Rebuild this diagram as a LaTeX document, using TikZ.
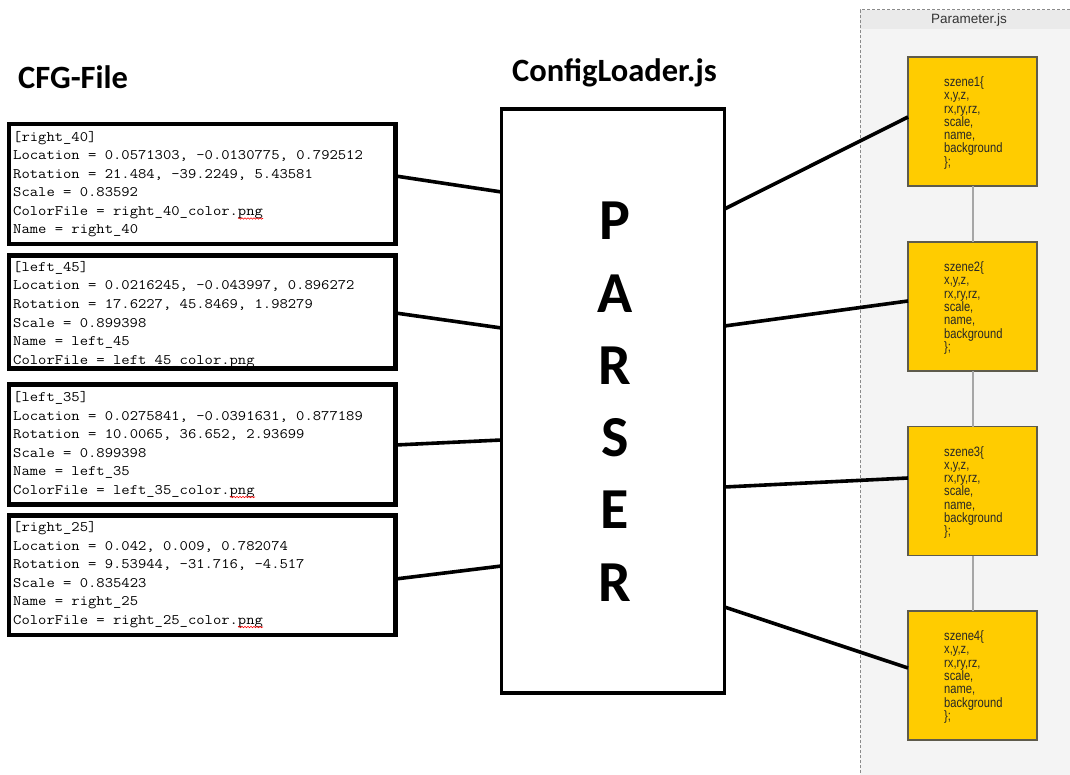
\documentclass[tikz,border=0pt]{standalone}
\usepackage{fontspec}
\usetikzlibrary{decorations.pathmorphing}
\newfontfamily\cfghead{Carlito}
\newfontfamily\cfgmono[FakeStretch=1.115]{Latin Modern Mono}
\newfontfamily\panelsans{Liberation Sans}
\newfontfamily\panelnarrow[FakeStretch=0.82]{Liberation Sans}
\definecolor{szgold}{HTML}{FFCC00}
\definecolor{szedge}{HTML}{5E5B4C}
\definecolor{szlinkgray}{HTML}{A6A6A6}
\definecolor{panelbg}{HTML}{F4F4F4}
\definecolor{panelhead}{HTML}{EAEAEA}
\definecolor{panelrim}{HTML}{8A8A8A}

% one line per node, baselines 18.5pt apart
\newcommand\cfgblock[3]{%
  \foreach \t [count=\i from 0] in {#3} {%
    \node[cfgtext] (#1-\i) at (13,{#2+18.5*\i}) {\t};
  }%
}

\begin{document}
\begin{tikzpicture}[x=1pt,y=-1pt,
  cfgbox/.style={draw=black, line width=4.3pt, minimum width=386.5pt, inner sep=0pt, outer sep=0pt},
  cfgtext/.style={anchor=base west, inner sep=0pt, font=\cfgmono\fontsize{14.5}{16}\selectfont, text=black},
  parserbox/.style={draw=black, line width=3.2pt, minimum width=223pt, minimum height=584pt, inner sep=0pt, outer sep=0pt},
  bigletter/.style={anchor=base, inner sep=0pt, font=\cfghead\bfseries\fontsize{58}{62}\selectfont},
  headline/.style={anchor=base west, inner sep=0pt, font=\cfghead\bfseries\fontsize{32.5}{36}\selectfont},
  wire/.style={line width=3.6pt},
  szbox/.style={draw=szedge, fill=szgold, line width=1.2pt, minimum width=129pt, minimum height=129pt, inner sep=0pt, outer sep=0pt},
  sztext/.style={anchor=base west, inner sep=0pt, font=\panelnarrow\fontsize{13.6}{15}\selectfont, text=black!85},
  szlink/.style={draw=szlinkgray, line width=2pt},
  spell/.style={draw=red, line width=0.6pt, decorate, decoration={snake, segment length=3pt, amplitude=0.7pt}}
]
\useasboundingbox (0,0) rectangle (1070,775);
\clip (0,0) rectangle (1070,775);

% Parameter.js container
\fill[panelbg] (860,10) rectangle (1090,790);
\fill[panelhead] (860,10) rectangle (1090,29);
\draw[panelrim, line width=1pt, dash pattern=on 3pt off 2pt] (1090,10) -- (860,10) -- (860,790);
\node[font=\panelsans\fontsize{13.5}{15}\selectfont, text=black!80, inner sep=0pt] (ptitle) at (969,20) {Parameter.js};

% headings
\node[headline] (cfgtitle) at (18,89) {CFG-File};
\node[headline] (loadtitle) at (512,82) {ConfigLoader.js};

% config file sections
\cfgblock{c1}{141.5}{{[right\_40]},{Location = 0.0571303, -0.0130775, 0.792512},{Rotation = 21.484, -39.2249, 5.43581},{Scale = 0.83592},{ColorFile = right\_40\_color.png},{Name = right\_40}}
\cfgblock{c2}{271.5}{{[left\_45]},{Location = 0.0216245, -0.043997, 0.896272},{Rotation = 17.6227, 45.8469, 1.98279},{Scale = 0.899398},{Name = left\_45},{ColorFile = left\_45\_color.png}}
\cfgblock{c3}{401.5}{{[left\_35]},{Location = 0.0275841, -0.0391631, 0.877189},{Rotation = 10.0065, 36.652, 2.93699},{Scale = 0.899398},{Name = left\_35},{ColorFile = left\_35\_color.png}}
\cfgblock{c4}{531.5}{{[right\_25]},{Location = 0.042, 0.009, 0.782074},{Rotation = 9.53944, -31.716, -4.517},{Scale = 0.835423},{Name = right\_25},{ColorFile = right\_25\_color.png}}

% spell-check marks under "png"
\draw[spell] (238,218.5) -- (263,218.5);
\draw[spell] (230,367) -- (255,367);
\draw[spell] (230,497) -- (255,497);
\draw[spell] (238,627) -- (263,627);

% section frames
\node[cfgbox, minimum height=120pt] (cfg1) at (202.25,184) {};
\node[cfgbox, minimum height=113pt] (cfg2) at (202.25,312) {};
\node[cfgbox, minimum height=120pt] (cfg3) at (202.25,444.5) {};
\node[cfgbox, minimum height=119.5pt] (cfg4) at (202.25,575.25) {};

% parser
\node[parserbox] (parser) at (613,401) {};
\foreach \L [count=\i from 0] in {P,A,R,S,E,R}
  \node[bigletter] (pl\i) at (615,{240+72.2*\i}) {\L};

% scene objects
\foreach \k/\cy in {1/121.5, 2/306.5, 3/491, 4/675.5} {
  \node[szbox] (s\k) at (972.5,\cy) {};
  \foreach \ln [count=\i from 0] in {szene\k\{, {x,y,z,}, {rx,ry,rz,}, {scale,}, {name,}, background, {\};}}
    \node[sztext] (s\k-\i) at (944,{\cy-35+13.3*\i}) {\ln};
}
\path[szlink] (s1.south) -- (s2.north) (s2.south) -- (s3.north) (s3.south) -- (s4.north);

% connectors: config sections to parser
\draw[wire] ([yshift=8pt]cfg1.east) -- ([yshift=209pt]parser.west);
\draw[wire] ([yshift=-1pt]cfg2.east) -- ([yshift=73pt]parser.west);
\draw[wire] ([yshift=-0.5pt]cfg3.east) -- ([yshift=-39pt]parser.west);
\draw[wire] ([yshift=-3.75pt]cfg4.east) -- ([yshift=-165pt]parser.west);

% connectors: parser to scene objects
\draw[wire] ([yshift=192pt]parser.east) -- ([yshift=4.5pt]s1.west);
\draw[wire] ([yshift=75pt]parser.east) -- ([yshift=5.5pt]s2.west);
\draw[wire] ([yshift=-86pt]parser.east) -- ([yshift=13pt]s3.west);
\draw[wire] ([yshift=-206pt]parser.east) -- ([yshift=7.5pt]s4.west);
\end{tikzpicture}
\end{document}
